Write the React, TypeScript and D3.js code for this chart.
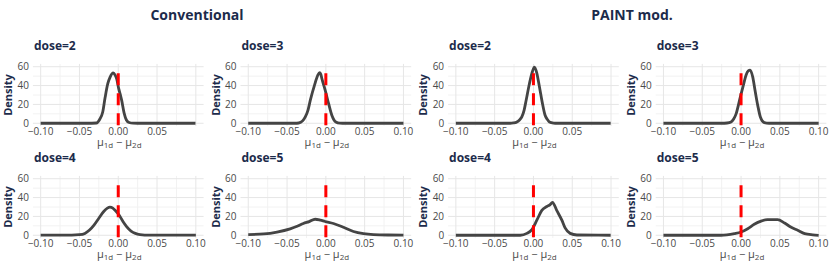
import React, { useEffect, useRef } from 'react';
import * as d3 from 'd3';

const groups = ['Conventional', 'PAINT mod.'];
const doses = [2, 3, 4, 5];
const xTicks = [-0.1, -0.05, 0, 0.05, 0.1];
const xMinorTicks = [-0.075, -0.025, 0.025, 0.075];
const yTicks = [0, 20, 40, 60];
const yMinorTicks = [10, 30, 50];
const refLineTop = 53;

// posterior density of mu1d - mu2d, conventional design
const conv2X = [-0.1, -0.04, -0.028, -0.024, -0.02, -0.017, -0.0135, -0.0105, -0.0065, -0.004, -0.002, 0.0005, 0.0025, 0.0045, 0.0075, 0.0105, 0.014, 0.019, 0.025, 0.0995];
const conv2Y = [0, 0, 0.3, 4, 12, 27, 42, 49, 53.5, 51, 47, 37, 31, 24, 11, 3.5, 0.8, 0.1, 0, 0];
const conv3X = [-0.1, -0.04, -0.035, -0.03, -0.0265, -0.023, -0.02, -0.0146, -0.0103, -0.0081, -0.0065, -0.0052, -0.0008, 0.0035, 0.0077, 0.0105, 0.0129, 0.018, 0.025, 0.1];
const conv3Y = [0, 0, 0.3, 2.5, 6.7, 14, 24.5, 40.5, 51, 53.6, 52, 47.6, 35, 21, 8.5, 3.5, 1.4, 0.2, 0, 0];
const conv4X = [-0.1, -0.06, -0.05, -0.043, -0.037, -0.031, -0.025, -0.019, -0.014, -0.0107, -0.007, -0.0035, 0.0015, 0.0065, 0.0105, 0.0165, 0.022, 0.028, 0.04, 0.1];
const conv4Y = [0.2, 0.2, 0.6, 2, 5.5, 11, 18, 25, 28.8, 29.8, 28.8, 26, 21, 14, 9.5, 4.5, 2, 0.8, 0.2, 0.2];
const conv5X = [-0.1, -0.08, -0.063, -0.046, -0.037, -0.029, -0.0215, -0.0138, -0.007, -0.001, 0.0098, 0.0227, 0.0356, 0.0485, 0.0613, 0.08, 0.1];
const conv5Y = [0.7, 1.4, 3.4, 6.8, 9.5, 12.5, 14.5, 17, 16, 14.6, 12.5, 8.5, 4, 1.7, 0.7, 0.3, 0.2];

// posterior density of mu1d - mu2d, PAINT modified design
const paint2X = [-0.1, -0.03, -0.026, -0.0214, -0.018, -0.015, -0.012, -0.0094, -0.0052, -0.0013, 0.0013, 0.0044, 0.0077, 0.0112, 0.015, 0.018, 0.0206, 0.026, 0.03, 0.0995];
const paint2Y = [0, 0, 0.3, 1.4, 3.5, 6.7, 14, 24.5, 42, 55, 59.5, 53, 38.7, 22.7, 8.5, 4, 1.4, 0.2, 0, 0];
const paint3X = [-0.1, -0.025, -0.018, -0.0129, -0.0095, -0.0064, -0.0009, 0.003, 0.0064, 0.0094, 0.0116, 0.0151, 0.018, 0.0215, 0.0249, 0.03, 0.036, 0.1];
const paint3Y = [0, 0, 0.3, 1.4, 4.5, 10, 28, 40.5, 51, 55.7, 56.5, 49, 35, 19, 6.7, 0.7, 0, 0];
const paint4X = [-0.1, -0.017, -0.0085, -0.002, 0.0044, 0.0108, 0.0173, 0.0215, 0.0245, 0.03, 0.0366, 0.0408, 0.0473, 0.056, 0.0995];
const paint4Y = [0, 0, 2, 6, 16, 26.4, 30.5, 32.5, 35, 26.4, 16, 7.8, 2, 0.3, 0];
const paint5X = [-0.1, -0.026, -0.0086, 0, 0.0086, 0.017, 0.0258, 0.034, 0.047, 0.056, 0.064, 0.073, 0.082, 0.0924, 0.1];
const paint5Y = [0, 0, 1.8, 3.5, 7, 11.6, 15, 16.5, 16.5, 13, 8.8, 5.3, 1.8, 0.5, 0];

const densities: Record<string, [number[], number[]]> = {
  'Conventional-2': [conv2X, conv2Y],
  'Conventional-3': [conv3X, conv3Y],
  'Conventional-4': [conv4X, conv4Y],
  'Conventional-5': [conv5X, conv5Y],
  'PAINT mod.-2': [paint2X, paint2Y],
  'PAINT mod.-3': [paint3X, paint3Y],
  'PAINT mod.-4': [paint4X, paint4Y],
  'PAINT mod.-5': [paint5X, paint5Y],
};

// panels whose last x tick label is dropped
const trimmedTickPanels = ['Conventional-2', 'PAINT mod.-2'];

const App: React.FC = () => {
  const ref = useRef<SVGSVGElement | null>(null);

  useEffect(() => {
    if (!ref.current) return;
    const svg = d3.select(ref.current);
    svg.selectAll('*').remove();

    const width = 830;
    const height = 266;
    const panelW = 170.7;
    const panelH = 62.2;
    const left0 = 32.9;
    const colStep = 207.6;
    const top0 = 63.9;
    const rowStep = 112;
    const font = '"Open Sans", "Noto Sans", sans-serif';
    const navy = '#1c2b4b';
    const tickCol = '#4a4a4a';

    svg.append('rect').attr('width', width).attr('height', height).attr('fill', '#fff');

    // group titles
    const titleX = [197, 632];
    groups.forEach((g, gi) => {
      svg.append('text')
        .attr('x', titleX[gi])
        .attr('y', 20)
        .attr('text-anchor', 'middle')
        .attr('font-family', font)
        .attr('font-weight', 700)
        .attr('font-size', 14)
        .attr('fill', navy)
        .text(g);
    });

    groups.forEach((g, gi) => {
      doses.forEach((dose, di) => {
        const key = `${g}-${dose}`;
        const col = gi * 2 + (di % 2);
        const row = Math.floor(di / 2);
        const left = left0 + col * colStep;
        const top = top0 + row * rowStep;

        const x = d3.scaleLinear().domain([-0.11, 0.11]).range([left, left + panelW]);
        const y = d3.scaleLinear().domain([-3, 63]).range([top + panelH, top]);
        const p = svg.append('g');

        // grid
        xMinorTicks.forEach((t) => {
          p.append('line').attr('x1', x(t)).attr('x2', x(t)).attr('y1', top).attr('y2', top + panelH)
            .attr('stroke', '#f2f2f2').attr('stroke-width', 1);
        });
        yMinorTicks.forEach((t) => {
          p.append('line').attr('x1', left).attr('x2', left + panelW).attr('y1', y(t)).attr('y2', y(t))
            .attr('stroke', '#f2f2f2').attr('stroke-width', 1);
        });
        xTicks.forEach((t) => {
          p.append('line').attr('x1', x(t)).attr('x2', x(t)).attr('y1', top).attr('y2', top + panelH)
            .attr('stroke', '#e6e6e6').attr('stroke-width', 1);
        });
        yTicks.forEach((t) => {
          p.append('line').attr('x1', left).attr('x2', left + panelW).attr('y1', y(t)).attr('y2', y(t))
            .attr('stroke', '#e6e6e6').attr('stroke-width', 1);
        });

        // tick labels
        const fmt = d3.format('.2f');
        const shownX = trimmedTickPanels.includes(key) ? xTicks.slice(0, -1) : xTicks;
        shownX.forEach((t) => {
          p.append('text').attr('x', x(t)).attr('y', top + panelH + 9)
            .attr('text-anchor', 'middle').attr('font-family', font).attr('font-size', 10)
            .attr('fill', tickCol).text(fmt(t));
        });
        yTicks.forEach((t) => {
          p.append('text').attr('x', left - 4).attr('y', y(t) + 3.5)
            .attr('text-anchor', 'end').attr('font-family', font).attr('font-size', 10)
            .attr('fill', tickCol).text(String(t));
        });

        // density curve
        const [xs, ys] = densities[key];
        const line = d3.line<number>()
          .x((_, i) => x(xs[i]))
          .y((d) => y(d))
          .curve(d3.curveMonotoneX);
        p.append('path').datum(ys)
          .attr('fill', 'none').attr('stroke', '#444').attr('stroke-width', 2.8)
          .attr('stroke-linejoin', 'round').attr('d', line);

        // reference line at zero
        p.append('line').attr('x1', x(0)).attr('x2', x(0))
          .attr('y1', y(refLineTop)).attr('y2', top + panelH)
          .attr('stroke', '#ff0000').attr('stroke-width', 3).attr('stroke-dasharray', '12,8');

        // panel title
        p.append('text').attr('x', left + 1).attr('y', top - 14)
          .attr('font-family', font).attr('font-weight', 700).attr('font-size', 12)
          .attr('fill', navy).text(`dose=${dose}`);

        // y title
        p.append('text')
          .attr('transform', `translate(${left - 21},${top + panelH / 2}) rotate(-90)`)
          .attr('text-anchor', 'middle').attr('font-family', font).attr('font-weight', 700)
          .attr('font-size', 11).attr('fill', navy).text('Density');

        // x title
        const xt = p.append('text').attr('x', x(0) + 1).attr('y', top + panelH + 19.5)
          .attr('text-anchor', 'middle').attr('font-family', font).attr('font-size', 11)
          .attr('fill', tickCol);
        xt.append('tspan').text('μ');
        xt.append('tspan').attr('dy', 2.5).attr('font-size', 8).text('1d');
        xt.append('tspan').attr('dy', -2.5).text(' − μ');
        xt.append('tspan').attr('dy', 2.5).attr('font-size', 8).text('2d');
      });
    });
  }, []);

  return (
    <svg ref={ref} width={830} height={266} style={{ position: 'absolute', left: 0, top: 0 }} />
  );
};

export default App;
